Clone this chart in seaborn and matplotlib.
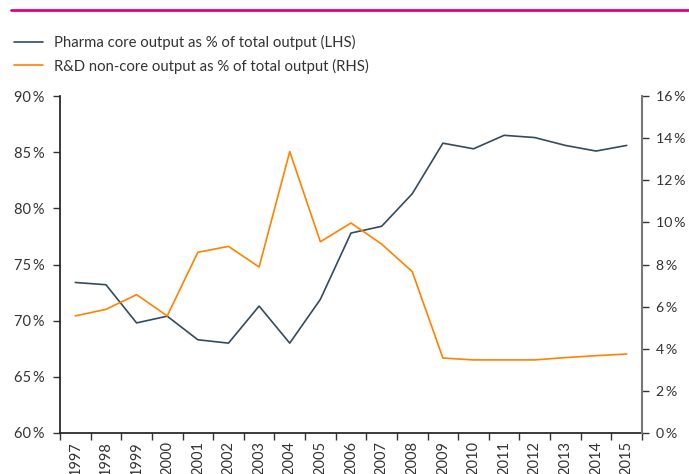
import matplotlib
matplotlib.use("Agg")
import matplotlib.pyplot as plt
import seaborn as sns
import pandas as pd
import numpy as np
from matplotlib.ticker import FuncFormatter, FixedLocator
from matplotlib.lines import Line2D

years = [str(y) for y in range(1997, 2016)]
pharma_core = [73.4, 73.2, 69.8, 70.4, 68.3, 68.0, 71.3, 68.0, 71.9, 77.8, 78.4,
               81.3, 85.8, 85.3, 86.5, 86.3, 85.6, 85.1, 85.6]
rd_noncore = [5.56, 5.87, 6.57, 5.56, 8.58, 8.86, 7.88, 13.36, 9.08, 9.97, 8.97,
              7.66, 3.56, 3.47, 3.47, 3.47, 3.58, 3.67, 3.75]
label_lhs = "Pharma core output as % of total output (LHS)"
label_rhs = "R&D non-core output as % of total output (RHS)"

sns.set_theme(style="white")
plt.rcParams['font.family'] = ['Lato', 'DejaVu Sans']

dark = "#344A5E"
orange = "#FF8200"
txt = "#333333"

df = pd.DataFrame({"idx": np.arange(len(years)), "year": years,
                   "pharma": pharma_core, "rd": rd_noncore})

fig = plt.figure(figsize=(6.89, 4.74), dpi=100)
ax = fig.add_axes([60/689, 1-433/474, (642-60)/689, (433-96)/474])
ax2 = ax.twinx()

sns.lineplot(data=df, x="idx", y="pharma", ax=ax, color=dark, lw=1.2, legend=False)
sns.lineplot(data=df, x="idx", y="rd", ax=ax2, color=orange, lw=1.2, legend=False)

ax.set_xlim(-0.5, len(years) - 0.5)
ax.set_ylim(60, 90)
ax2.set_ylim(0, 16)
ax.set_yticks(np.arange(60, 91, 5))
ax2.set_yticks(np.arange(0, 17, 2))

pct = FuncFormatter(lambda v, p: f"{v:.0f}\u2009%")
ax.yaxis.set_major_formatter(pct)
ax2.yaxis.set_major_formatter(pct)

ax.xaxis.set_major_locator(FixedLocator(np.arange(-0.5, len(years), 1.0)))
ax.set_xticklabels([])
ax.xaxis.set_minor_locator(FixedLocator(np.arange(len(years))))
ax.set_xticklabels(years, minor=True, rotation=90)
ax.tick_params(axis="x", which="minor", length=0, pad=6, labelsize=10.5, labelcolor=txt)
ax.tick_params(axis="x", which="major", length=5, width=1, color=txt, direction="out", bottom=True)

ax.tick_params(axis="y", length=5, width=1, color=txt, direction="out", left=True,
               labelsize=10.5, labelcolor=txt, pad=6)
ax2.tick_params(axis="y", length=5, width=1, color=txt, direction="out", right=True,
                labelsize=10.2, labelcolor=txt, pad=5)

ax.set_xlabel("")
ax.set_ylabel("")
ax2.set_ylabel("")

ax.spines["top"].set_visible(False)
ax2.spines["top"].set_visible(False)
ax.spines["right"].set_visible(False)
ax2.spines["left"].set_visible(False)
ax.spines["left"].set_color("#222222")
ax.spines["bottom"].set_color("#222222")
ax2.spines["bottom"].set_visible(False)
ax2.spines["right"].set_color("#777777")
ax2.spines["right"].set_linewidth(1.5)

# top magenta rule
fig.add_artist(Line2D([11/689, 1.0], [1-10/474, 1-10/474], color="#E6007E", lw=2,
                      transform=fig.transFigure))

handles = [Line2D([], [], color=dark, lw=1.2), Line2D([], [], color=orange, lw=1.2)]
fig.legend(handles, [label_lhs, label_rhs], loc="upper left",
           bbox_to_anchor=(1/689, 1-22/474), frameon=False, fontsize=10.7,
           handlelength=1.9, handletextpad=0.8, labelspacing=0.55, labelcolor=txt)

fig.savefig("out.png", dpi=100)
